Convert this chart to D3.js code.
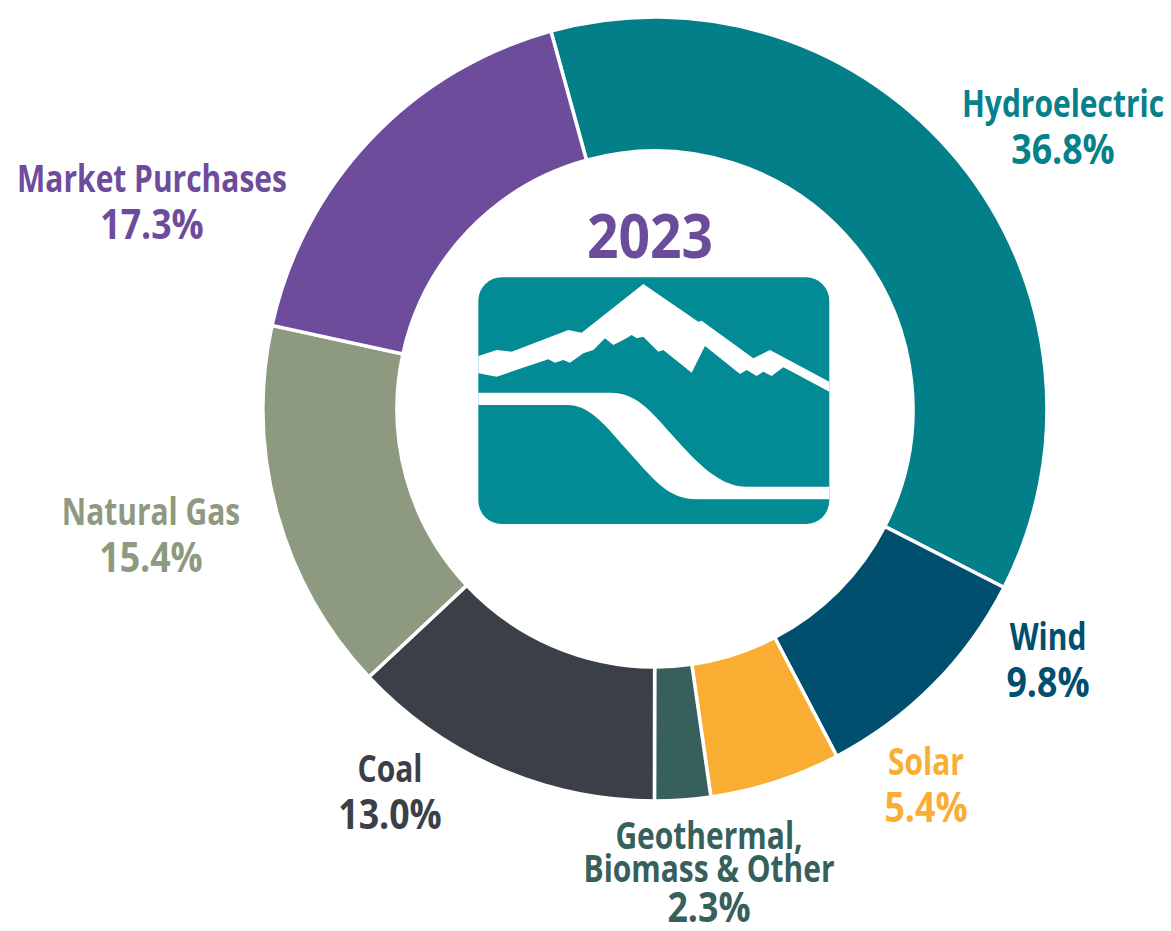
<!DOCTYPE html>
<html><head><meta charset="utf-8">
<script src="https://cdn.jsdelivr.net/npm/d3@7"></script>
<style>html,body{margin:0;padding:0;background:#fff;}svg{display:block;}</style>
</head><body>
<svg id="chart" width="1171" height="931"></svg>
<script>
// ---- data ----
const categories = ["Hydroelectric", "Wind", "Solar", "Geothermal, Biomass & Other", "Coal", "Natural Gas", "Market Purchases"];
const shares = [36.8, 9.8, 5.4, 2.3, 13.0, 15.4, 17.3];
const colors = ["#037f8a", "#004f6e", "#f9ae33", "#375f5b", "#3a3f48", "#8d9a80", "#6d4c9c"];
const labelLines = [["Hydroelectric"], ["Wind"], ["Solar"], ["Geothermal,", "Biomass & Other"], ["Coal"], ["Natural Gas"], ["Market Purchases"]];
const labelColors = ["#06808a", "#004f6e", "#f9ae33", "#375f5b", "#3a3f48", "#8d9a80", "#6d4c9c"];
const yearLabel = "2023";

// ---- layout ----
const W = 1171, H = 931;
const cx = 655, cy = 409, rOuter = 392, rInner = 258;
// label anchor positions (centre x, baseline of last name line, gap to percentage baseline)
const labelPos = [[1063, 117, 47], [1048, 650, 47], [926, 775, 47], [709, 882, 40], [390, 782, 47], [151, 525, 47], [152, 192, 47]];

const svg = d3.select("#chart");
const g = svg.append("g").attr("transform", `translate(${cx},${cy})`);

const pie = d3.pie().value(d => d).sort(null)
  .startAngle(-15.4 * Math.PI / 180)
  .endAngle((360 - 15.4) * Math.PI / 180);
const arc = d3.arc().innerRadius(rInner).outerRadius(rOuter);

g.selectAll("path.slice").data(pie(shares)).join("path")
  .attr("class", "slice")
  .attr("d", arc)
  .attr("fill", (d, i) => colors[i])
  .attr("stroke", "#fff")
  .attr("stroke-width", 3.5)
  .attr("stroke-linejoin", "miter");

// labels
labelLines.forEach((lines, i) => {
  const [x, y, gap] = labelPos[i];
  const col = labelColors[i];
  const n = lines.length;
  lines.forEach((t, j) => {
    svg.append("text")
      .attr("transform", `translate(${x},${y - (n - 1 - j) * 33}) scale(0.81,1)`)
      .attr("text-anchor", "middle")
      .attr("font-family", "Open Sans")
      .attr("font-weight", 700)
      .attr("font-size", 37)
      .attr("fill", col)
      .text(t);
  });
  svg.append("text")
    .attr("transform", `translate(${x},${y + gap}) scale(0.85,1)`)
    .attr("text-anchor", "middle")
    .attr("font-family", "Open Sans")
    .attr("font-weight", 700)
    .attr("font-size", 42)
    .attr("fill", col)
    .text(d3.format(".1f")(shares[i]) + "%");
});

// year
svg.append("text")
  .attr("transform", `translate(650,258) scale(0.92,1)`)
  .attr("text-anchor", "middle")
  .attr("font-family", "Open Sans")
  .attr("font-weight", 700)
  .attr("font-size", 60)
  .attr("fill", "#6b4c9a")
  .text(yearLabel);

// logo (decorative)
const logo = svg.append("g").attr("transform", "translate(470,270) scale(0.3333)");
logo.append("rect").attr("x", 25).attr("y", 22).attr("width", 1053).attr("height", 740)
  .attr("rx", 70).attr("fill", "#038b95");
logo.append("path").attr("fill", "#fff").attr("d",
  "M25,258 L80,240 L125,245 L295,180 L335,188 L520,42 L685,155 L695,152 L850,265 L900,240 L1078,335 " +
  "L1078,365 L990,318 L940,292 L905,318 L880,305 L860,318 L830,300 L810,312 L705,228 L665,308 L580,240 " +
  "L565,245 L520,200 L500,205 L485,195 L460,210 L430,225 L405,205 L370,240 L340,250 L300,278 L280,270 " +
  "L255,278 L235,268 L80,320 L25,310 Z");
logo.append("path").attr("fill", "#fff").attr("d",
  "M25,368 L420,368 C500,368 540,420 620,510 C700,600 760,650 830,650 L1078,650 L1078,688 L680,688 " +
  "C600,688 560,640 480,550 C400,460 360,405 290,405 L25,405 Z");
</script>
</body></html>
